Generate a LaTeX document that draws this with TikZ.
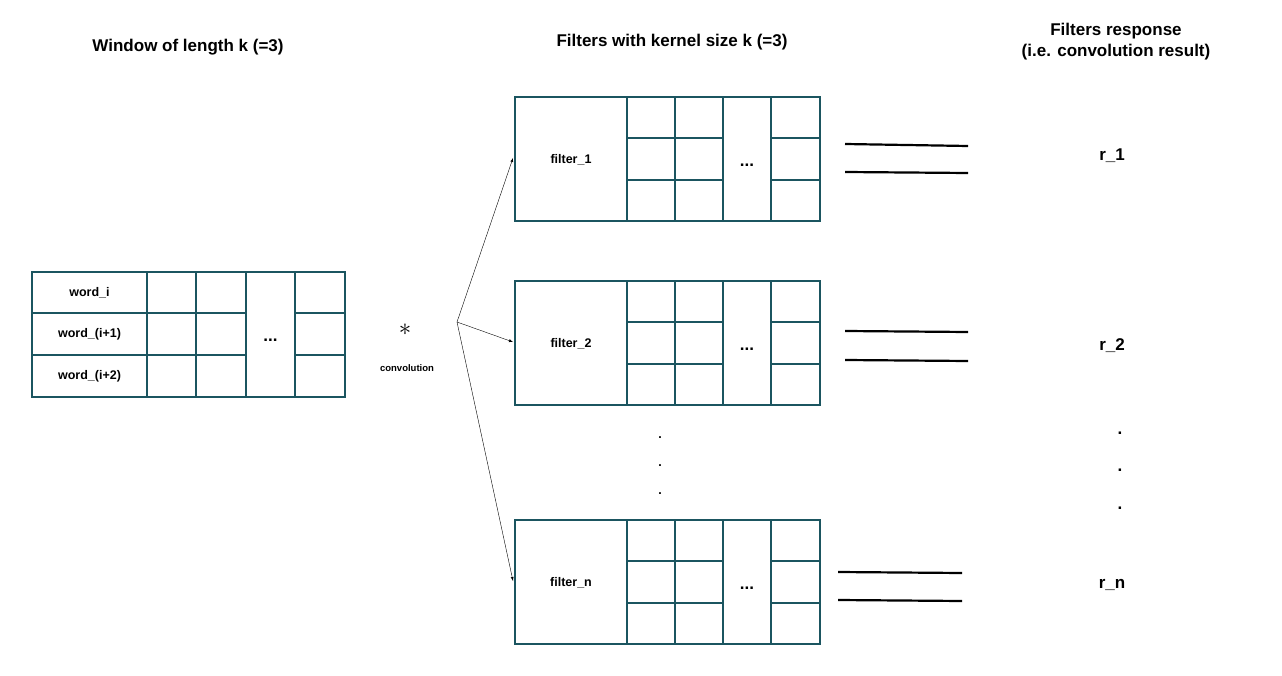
\documentclass[tikz,border=0pt]{standalone}
\usepackage{fontspec}
\setmainfont{Liberation Sans}
\begin{document}
\begin{tikzpicture}[x=1pt,y=-1pt,
  lbl/.style={font=\bfseries\fontsize{12.5}{14}\selectfont},
  ttl/.style={font=\bfseries\fontsize{17}{21}\selectfont, align=center},
  eq/.style={line width=2.2pt, black},
  arr/.style={-latex, thin}]
\definecolor{tl}{HTML}{1B5560}
\tikzset{grid/.style={draw=tl, line width=2.3pt}}
\useasboundingbox (0,0) rectangle (1282,676);
% window
\draw[grid] (32,272) rectangle (345,397);
\foreach \x in {147,196,246,295} \draw[grid] (\x,272) -- (\x,397);
\foreach \y in {313,355} {\draw[grid] (32,\y) -- (246,\y); \draw[grid] (295,\y) -- (345,\y);}
\node[lbl] (w1) at (89.5,293) {word\_i};
\node[lbl] (w2) at (89.5,334) {word\_(i+1)};
\node[lbl] (w3) at (89.5,376) {word\_(i+2)};
\node[lbl, font=\bfseries\fontsize{17}{20}\selectfont] (wd) at (270.5,340) {...};
% filters
\foreach \n/\t/\lab in {f1/97/filter\_1, f2/281/filter\_2, fn/520/filter\_n} {
  \draw[grid] (515,\t) rectangle (820,\t+124);
  \foreach \x in {627,675,723,771} \draw[grid] (\x,\t) -- (\x,\t+124);
  \foreach \dy in {41,83} {\draw[grid] (627,\t+\dy) -- (723,\t+\dy); \draw[grid] (771,\t+\dy) -- (820,\t+\dy);}
  \node[lbl] (\n) at (571,\t+63) {\lab};
  \coordinate (\n-in) at (513,\t+61);
  \node[lbl, font=\bfseries\fontsize{17}{20}\selectfont] at (747,\t+68) {...};
}
% arrows
\node[font=\fontsize{26}{26}\selectfont] (star) at (405,330) {$\ast$};
\node[font=\bfseries\fontsize{9.5}{11}\selectfont] (conv) at (407,368) {convolution};
\coordinate (hub) at (457,322);
\draw[arr] (hub) -- (f1-in);
\draw[arr] (hub) -- (f2-in);
\draw[arr] (hub) -- (fn-in);
% equals
\draw[eq] (845,144) -- (968,146); \draw[eq] (845,172) -- (968,173);
\draw[eq] (845,331) -- (968,332); \draw[eq] (845,360) -- (968,361);
\draw[eq] (838,572) -- (962,573); \draw[eq] (838,600) -- (962,601);
% titles
\node[ttl] (t1) at (188,47) {Window of length k (=3)};
\node[ttl] (t2) at (672,42) {Filters with kernel size k (=3)};
\node[ttl] (t3) at (1116,42) {Filters response\\(i.e. convolution result)};
% responses
\node[ttl] (r1) at (1112,156) {r\_1};
\node[ttl] (r2) at (1112,346) {r\_2};
\node[ttl] (rn) at (1112,585) {r\_n};
\foreach \y in {438,466,494} \node[lbl] at (660,\y) {.};
\foreach \y in {433,470,508} \node[ttl] at (1120,\y) {.};
\end{tikzpicture}
\end{document}
